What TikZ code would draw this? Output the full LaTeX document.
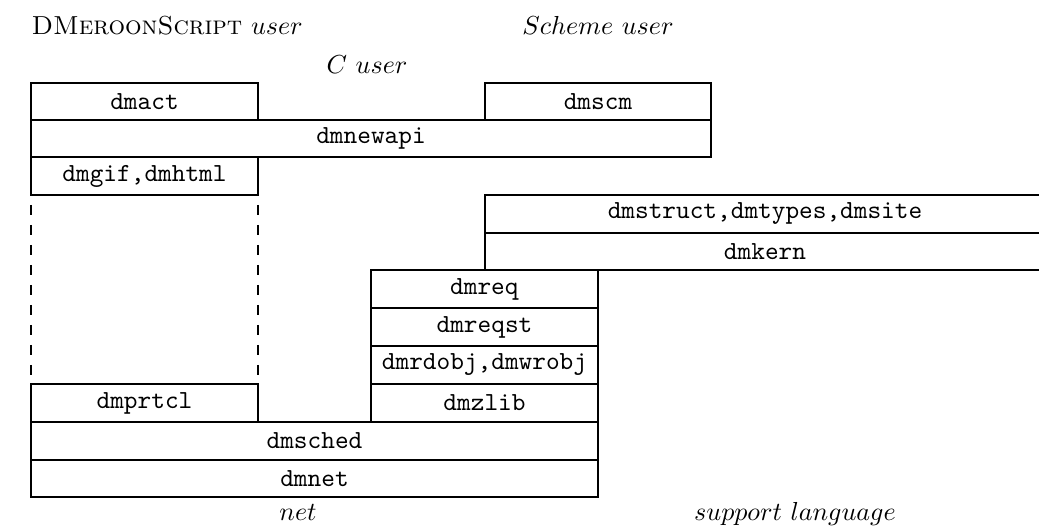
\documentclass[tikz,border=0pt,11pt]{standalone}
\usepackage{tikz}
\def\layer(#1)(#2)#3#4{\draw (#1) rectangle node (#3) {\texttt{#4}} (#2);}

\begin{document}
\begin{tikzpicture}[x=0.4205pt,y=-0.4205pt,line width=0.45pt]
			%%%%% START %%%%%
			
			\useasboundingbox (0,0) rectangle (1039,525);
			\clip (0,0) rectangle (1039,525);
			
			\node[anchor=base west, inner sep=0] (dmscript) at (31,34) {\textsc{DMeroonScript} $user$};
			\node[anchor=base, inner sep=0] (scheme) at (598,34) {$Scheme\ user$};
			\node[anchor=base, inner sep=0] (cuser) at (367,73) {$C\ user$};
			
			\layer(31,83)(258,120){dmact}{dmact}
			\layer(485,83)(711,120){dmscm}{dmscm}
			\layer(31,120)(711,157){dmnewapi}{dmnewapi}
			\layer(31,157)(258,195){dmgif}{dmgif,dmhtml}
			
			\draw[dash pattern=on 4.2pt off 4.2pt, dash phase=4.2pt] (31,195) -- (31,384);
			\draw[dash pattern=on 4.2pt off 4.2pt, dash phase=4.2pt] (258,195) -- (258,384);
			
			\layer(485,195)(1045,233){dmstruct}{dmstruct,dmtypes,dmsite}
			\layer(485,233)(1045,270){dmkern}{dmkern}
			
			\layer(371,270)(598,308){dmreq}{dmreq}
			\layer(371,308)(598,346){dmreqst}{dmreqst}
			\layer(371,346)(598,384){dmrdobj}{dmrdobj,dmwrobj}
			\layer(371,384)(598,422){dmzlib}{dmzlib}
			
			\layer(31,384)(258,422){dmprtcl}{dmprtcl}
			\layer(31,422)(598,460){dmsched}{dmsched}
			\layer(31,460)(598,497){dmnet}{dmnet}
			
			\node[anchor=base, inner sep=0] (net) at (298,520) {$net$};
			\node[anchor=base, inner sep=0] (support) at (795,520) {$support\ language$};
			
			%%%%% END %%%%%
		\end{tikzpicture}
\end{document}
